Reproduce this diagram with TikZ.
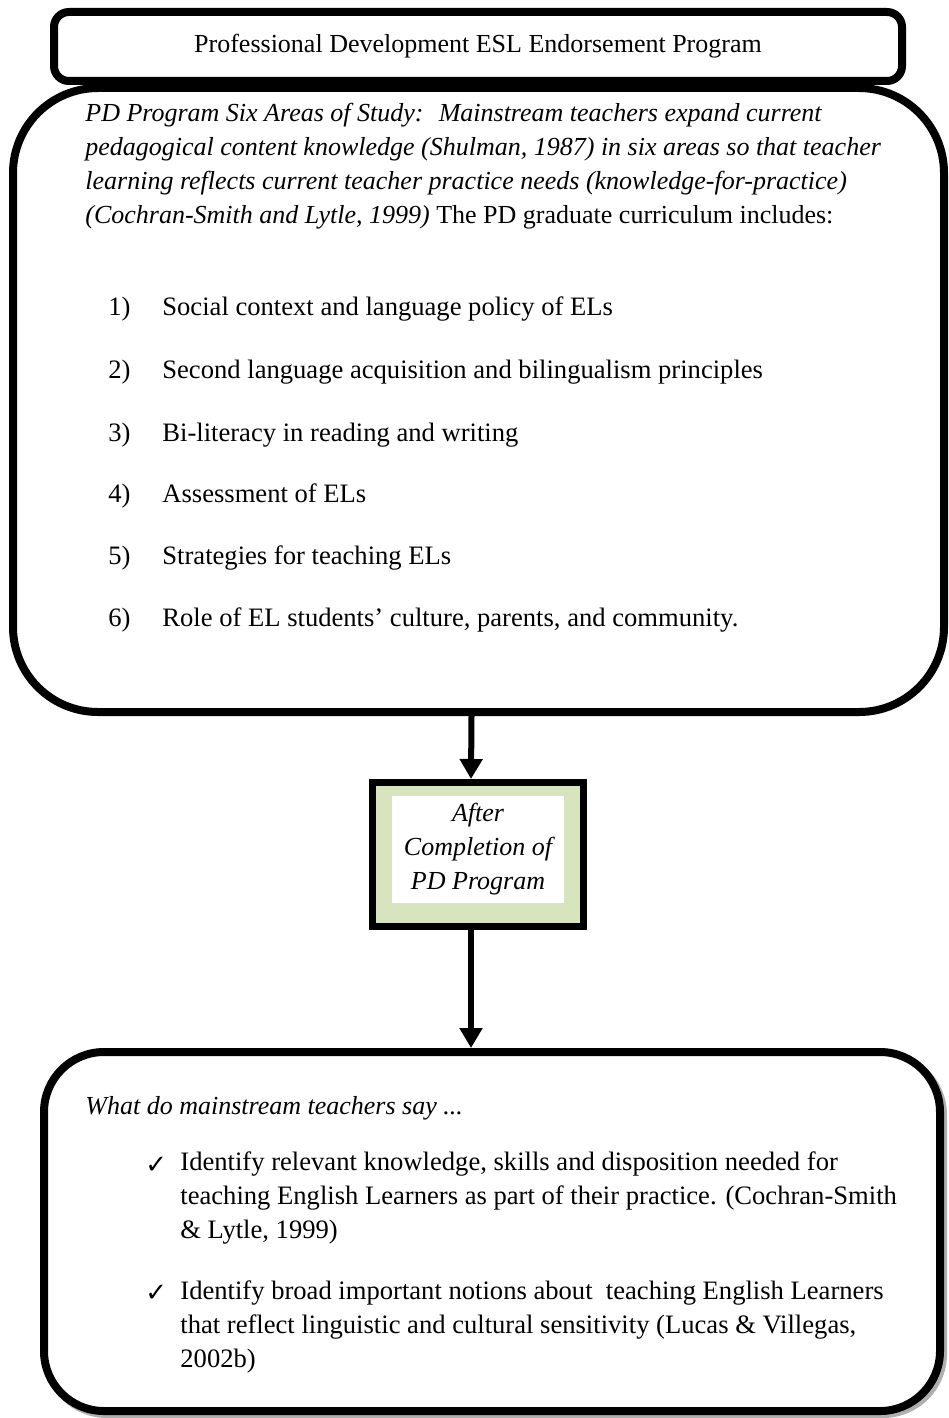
\documentclass[tikz,border=0pt]{standalone}
\usepackage{fontspec}
\setmainfont{Liberation Serif}
\newfontfamily\tickfont{DejaVu Sans}
\usepackage{tikz}
\usetikzlibrary{arrows.meta}
\definecolor{olivelight}{RGB}{215,228,189}
\definecolor{shadowgray}{RGB}{175,175,175}
\tikzstyle{bigbox} = [draw=black, line width=4pt, rectangle, fill=white, inner sep=0pt]
\tikzstyle{flowarrow} = [line width=3pt, -{Triangle[length=10pt,width=11pt]}]
\tikzstyle{bodytext} = [inner sep=0pt, anchor=west, align=left, font=\fontsize{13.3}{17}\selectfont]
\tikzstyle{italictext} = [bodytext, font=\fontsize{13}{17}\selectfont\itshape]
\tikzstyle{tickmark} = [bodytext, font=\tickfont\fontsize{13}{15}\selectfont]

\begin{document}
\begin{tikzpicture}[x=0.5pt, y=-0.5pt]
        \useasboundingbox (0,0) rectangle (948,1418);
        % boxes
        \node [bigbox, rounded corners=42.5pt, minimum width=465.5pt, minimum height=312pt] (areas) at (478.5,400) {};
        \node [bigbox, rounded corners=7.5pt, minimum width=424pt, minimum height=34.5pt, font=\fontsize{13}{17}\selectfont] (title) at (478,46.5) {\raisebox{1.5pt}{Professional Development ESL Endorsement Program}};
        \node [bigbox, line width=3.5pt, fill=olivelight, minimum width=105.5pt, minimum height=72pt] (after) at (478,854.5) {};
        \node [fill=white, inner sep=0pt, minimum width=86pt, minimum height=53.5pt, align=center, font=\fontsize{13}{17}\selectfont\itshape] (aftertext) at (478,849.5) {After\\Completion of\\PD Program};
        \node [bigbox, draw=shadowgray, fill=shadowgray, rounded corners=30pt, minimum width=448pt, minimum height=179.5pt] (sayshadow) at (495,1234.5) {};
        \node [bigbox, rounded corners=30pt, minimum width=448pt, minimum height=179.5pt] (say) at (492,1231.5) {};

        % six areas of study
        \node [italictext] (study) at (85,166.5) {PD Program Six Areas of Study:~ Mainstream teachers expand current\\pedagogical content knowledge (Shulman, 1987) in six areas so that teacher\\learning reflects current teacher practice needs (knowledge-for-practice)\\(Cochran-Smith and Lytle, 1999) \textup{The PD graduate curriculum includes:}};
        \node [bodytext] (area1) at (108,309) {\makebox[27pt][l]{1)}Social context and language policy of ELs};
        \node [bodytext] (area2) at (108,372) {\makebox[27pt][l]{2)}Second language acquisition and bilingualism principles};
        \node [bodytext] (area3) at (108,435) {\makebox[27pt][l]{3)}Bi-literacy in reading and writing};
        \node [bodytext] (area4) at (108,496) {\makebox[27pt][l]{4)}Assessment of ELs};
        \node [bodytext] (area5) at (108,558) {\makebox[27pt][l]{5)}Strategies for teaching ELs};
        \node [bodytext] (area6) at (108,620) {\makebox[27pt][l]{6)}Role of EL students’ culture, parents, and community.};

        % what teachers say
        \node [italictext] (question) at (85,1108) {What do mainstream teachers say ...};
        \node [tickmark] (tick1) at (145,1165) {✓};
        \node [bodytext] (notion1) at (180,1198) {Identify relevant knowledge, skills and disposition needed for\\teaching English Learners as part of their practice. (Cochran-Smith\\\& Lytle, 1999)};
        \node [tickmark] (tick2) at (145,1293) {✓};
        \node [bodytext] (notion2) at (180,1327) {Identify broad important notions about~ teaching English Learners\\that reflect linguistic and cultural sensitivity (Lucas \& Villegas,\\2002b)};

        % arrows
        \coordinate (drop) at ([xshift=-3.5pt]after.south);
        \draw [flowarrow] ([xshift=-3.5pt]areas.south) -- ([xshift=-3.5pt]after.north);
        \draw [flowarrow] (drop) -- (drop |- say.north);
    \end{tikzpicture}
\end{document}
